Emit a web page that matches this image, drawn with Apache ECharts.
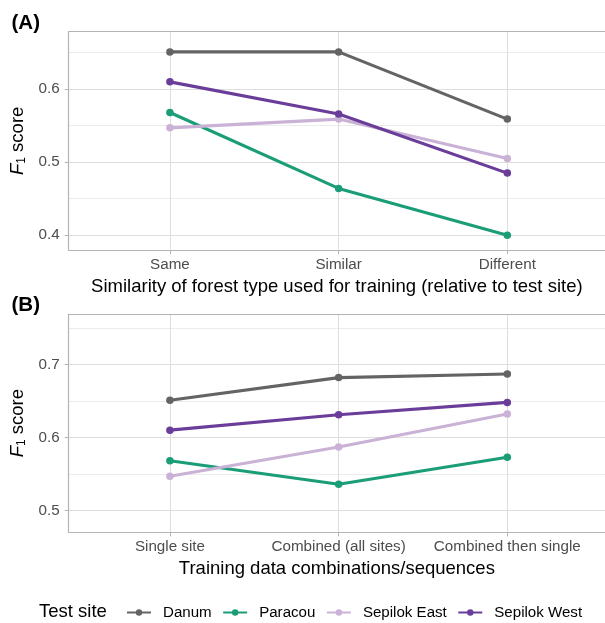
<!DOCTYPE html>
<html>
<head>
<meta charset="utf-8">
<script src="https://cdn.jsdelivr.net/npm/echarts@6/dist/echarts.min.js"></script>
<style>
html,body{margin:0;padding:0;background:#fff;}
#chart{width:605px;height:623px;}
</style>
</head>
<body>
<div id="chart"></div>
<script>
// ---- data ----
var sites = ['Danum', 'Paracou', 'Sepilok East', 'Sepilok West'];
var siteColors = ['#646464', '#1B9E77', '#CAB2D6', '#6A3D9A'];

var categoriesA = ['Same', 'Similar', 'Different'];
var danumA    = [0.651, 0.651, 0.559];
var paracouA  = [0.568, 0.464, 0.400];
var sepEastA  = [0.547, 0.559, 0.505];
var sepWestA  = [0.610, 0.566, 0.485];

var categoriesB = ['Single site', 'Combined (all sites)', 'Combined then single'];
var danumB    = [0.651, 0.682, 0.687];
var paracouB  = [0.568, 0.536, 0.573];
var sepEastB  = [0.547, 0.587, 0.632];
var sepWestB  = [0.610, 0.631, 0.648];

var yTicksA = [0.4, 0.5, 0.6];
var yMinorA = [0.45, 0.55, 0.65];
var yTicksB = [0.5, 0.6, 0.7];
var yMinorB = [0.55, 0.65, 0.75];
var xTicks = [1, 2, 3];

// ---- chart ----
var FONT = "'Liberation Sans', Arial, Helvetica, sans-serif";
var BORDER = '#B3B3B3';
var X_MIN = 0.4, X_MAX = 3.579;
var valuesA = [danumA, paracouA, sepEastA, sepWestA];
var valuesB = [danumB, paracouB, sepEastB, sepWestB];

function pts(arr) { return arr.map(function (v, i) { return [i + 1, v]; }); }

var chart = echarts.init(document.getElementById('chart'), null, {renderer: 'canvas'});

function xAxisFor(cats, gridIndex, name) {
  return {
    type: 'value', gridIndex: gridIndex, min: X_MIN, max: X_MAX, position: 'bottom',
    axisLine: {show: true, onZero: false, lineStyle: {color: BORDER, width: 1.2}},
    axisTick: {show: true, length: 4, customValues: xTicks, lineStyle: {color: BORDER, width: 1}},
    axisLabel: {customValues: xTicks, margin: 7, color: '#4D4D4D', fontSize: 15.2, fontFamily: FONT,
      formatter: function (v) { return cats[Math.round(v) - 1]; }},
    splitLine: {show: true, lineStyle: {color: '#DEDEDE', width: 1}},
    name: name, nameLocation: 'middle', nameGap: 27.5,
    nameTextStyle: {fontSize: 18.5, color: '#000', fontFamily: FONT}
  };
}
function xAxisTop(gridIndex) {
  return {
    type: 'value', gridIndex: gridIndex, min: X_MIN, max: X_MAX, position: 'top',
    axisLine: {show: true, onZero: false, lineStyle: {color: BORDER, width: 1.2}},
    axisTick: {show: false}, axisLabel: {show: false}, splitLine: {show: false}
  };
}
function yAxisMajor(ticks, gridIndex, min, max) {
  return {
    type: 'value', gridIndex: gridIndex, min: min, max: max, position: 'left',
    axisLine: {show: true, onZero: false, lineStyle: {color: BORDER, width: 1.2}},
    axisTick: {show: true, length: 4, customValues: ticks, lineStyle: {color: BORDER, width: 1}},
    axisLabel: {customValues: ticks, margin: 9, color: '#4D4D4D', fontSize: 15.2, fontFamily: FONT,
      formatter: function (v) { return v.toFixed(1); }},
    splitLine: {show: true, lineStyle: {color: '#DEDEDE', width: 1}},
    name: '{i|F}{s|1} score', nameLocation: 'middle', nameGap: 34.5, nameRotate: 90,
    nameTextStyle: {fontSize: 18.5, color: '#000', fontFamily: FONT,
      rich: {
        i: {fontSize: 18.5, fontStyle: 'italic', fontFamily: FONT, color: '#000'},
        s: {fontSize: 12, fontFamily: FONT, color: '#000', padding: [8, 0, 0, 0]}
      }}
  };
}
function yAxisMinor(ticks, gridIndex, min, max) {
  return {
    type: 'value', gridIndex: gridIndex, min: min, max: max, position: 'left',
    axisLine: {show: false},
    axisTick: {show: false, customValues: ticks},
    axisLabel: {show: false, customValues: ticks},
    splitLine: {show: true, lineStyle: {color: '#EBEBEB', width: 1}}
  };
}

var series = [];
sites.forEach(function (s, k) {
  series.push({
    name: s, type: 'line', xAxisIndex: 0, yAxisIndex: 1, data: pts(valuesA[k]),
    symbol: 'circle', symbolSize: 7.5, color: siteColors[k],
    lineStyle: {width: 3.1, color: siteColors[k]}, itemStyle: {color: siteColors[k]},
    z: 3 + k, animation: false
  });
  series.push({
    name: s, type: 'line', xAxisIndex: 2, yAxisIndex: 3, data: pts(valuesB[k]),
    symbol: 'circle', symbolSize: 7.5, color: siteColors[k],
    lineStyle: {width: 3.1, color: siteColors[k]}, itemStyle: {color: siteColors[k]},
    z: 3 + k, animation: false
  });
});

var option = {
  backgroundColor: '#fff',
  animation: false,
  title: [
    {text: '(A)', left: 6.5, top: 8, textStyle: {fontSize: 20.5, fontWeight: 'bold', color: '#000', fontFamily: FONT}},
    {text: '(B)', left: 6.5, top: 289.5, textStyle: {fontSize: 20.5, fontWeight: 'bold', color: '#000', fontFamily: FONT}},
    {text: 'Test site', left: 34, top: 597.5, textStyle: {fontSize: 18.5, fontWeight: 'normal', color: '#000', fontFamily: FONT}}
  ],
  legend: {
    data: sites, left: 121, top: 600, itemWidth: 24, itemHeight: 8, itemGap: 10.5,
    textStyle: {fontSize: 15.1, color: '#000', fontFamily: FONT, padding: [0, 0, 0, 7]}
  },
  grid: [
    {left: 68.7, top: 31.7, height: 218.3, right: 0, show: false, containLabel: false},
    {left: 68.7, top: 314, height: 218.3, right: 0, show: false, containLabel: false}
  ],
  xAxis: [
    xAxisFor(categoriesA, 0, 'Similarity of forest type used for training (relative to test site)'),
    xAxisTop(0),
    xAxisFor(categoriesB, 1, 'Training data combinations/sequences'),
    xAxisTop(1)
  ],
  yAxis: [
    yAxisMinor(yMinorA, 0, 0.3797, 0.6787),
    yAxisMajor(yTicksA, 0, 0.3797, 0.6787),
    yAxisMinor(yMinorB, 1, 0.4701, 0.7691),
    yAxisMajor(yTicksB, 1, 0.4701, 0.7691)
  ],
  series: series
};
chart.setOption(option);
</script>
</body>
</html>
